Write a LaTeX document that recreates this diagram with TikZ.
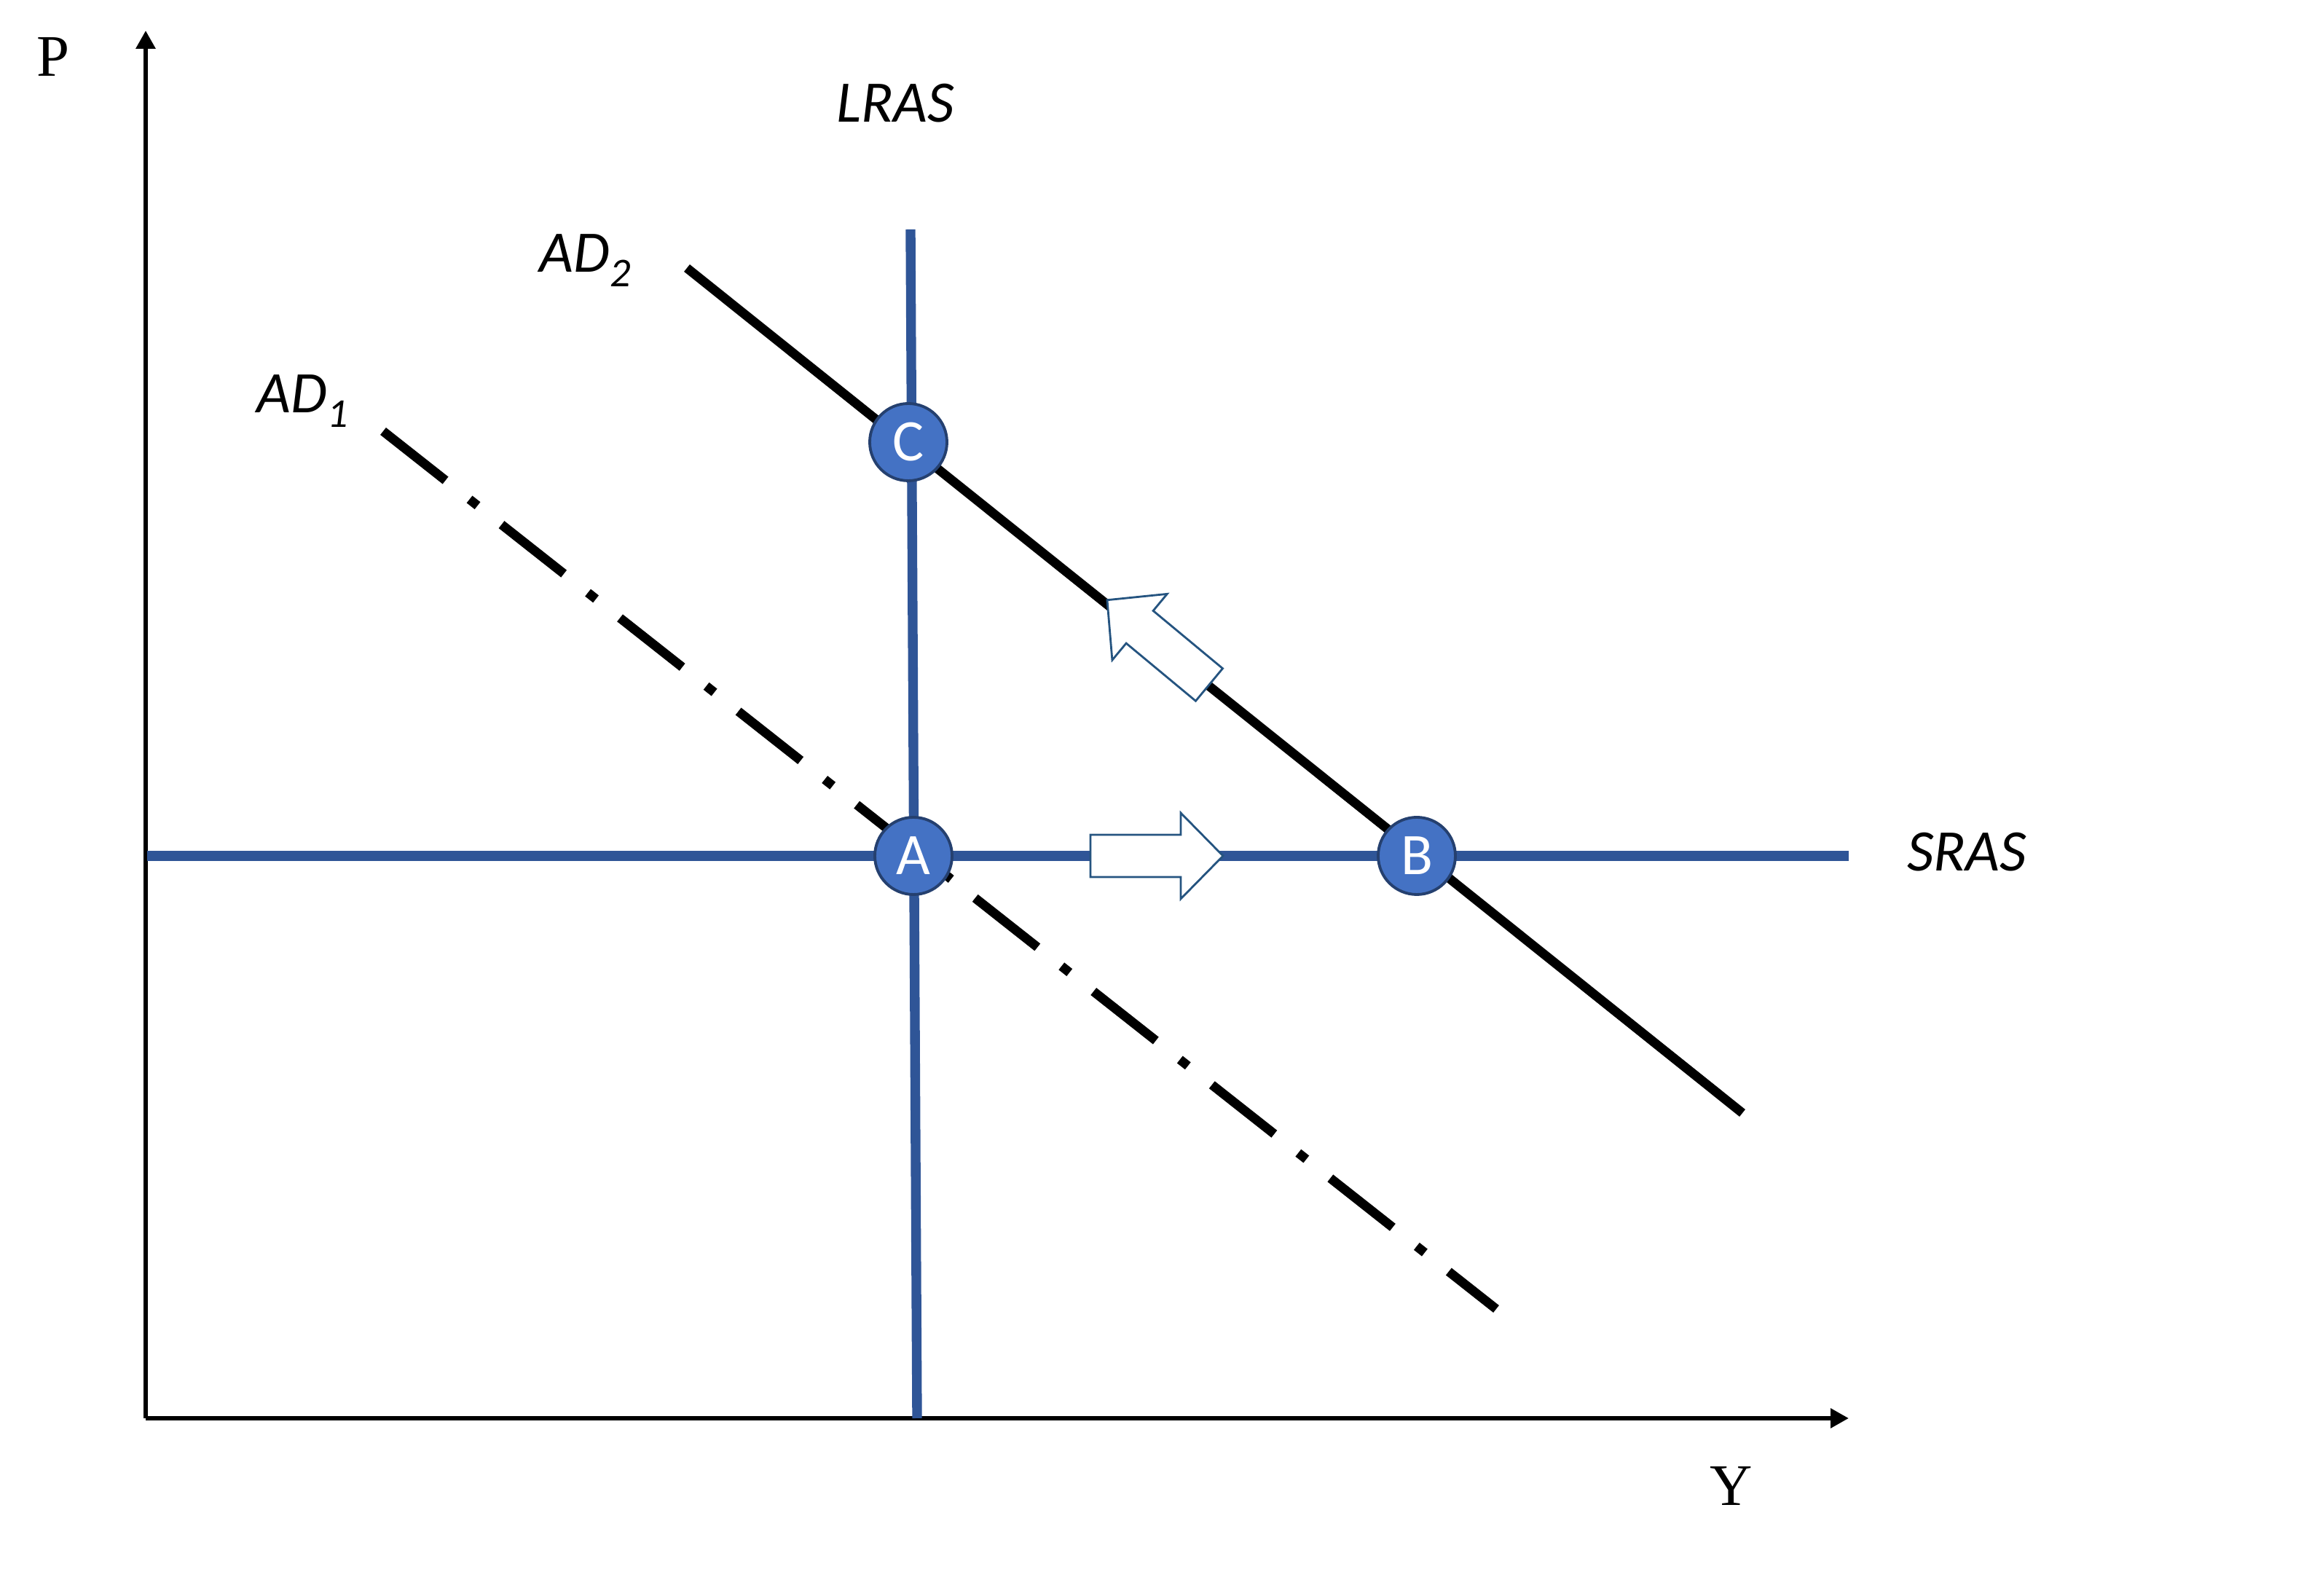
\documentclass[tikz,border=0pt]{standalone}
\usepackage{fontspec}
\setmainfont{Carlito}
\newfontfamily\axisfont{Liberation Serif}
\usetikzlibrary{arrows.meta}
\definecolor{pointblue}{HTML}{4472C4}
\definecolor{pointedge}{HTML}{25406F}
\definecolor{curveblue}{HTML}{2F5597}
\definecolor{shiftedge}{HTML}{255480}

\begin{document}
\begin{tikzpicture}[
  axis/.style={line width=1.7pt, -{Triangle[length=2.5mm, width=2.6mm]}},
  supply/.style={curveblue, line width=3.8pt},
  demand/.style={black, line width=3.6pt},
  point/.style={circle, draw=pointedge, line width=1.1pt, fill=pointblue, text=white, minimum size=10.6mm, inner sep=0pt, font=\fontsize{23}{23}\selectfont},
  curvelabel/.style={inner sep=0pt, font=\fontsize{23}{23}\selectfont\itshape},
  axislabel/.style={inner sep=0pt, font=\fontsize{23}{23}\selectfont\axisfont},
  shiftarrow/.pic={\draw[shiftedge, line width=0.8pt, fill=white] (0,-0.29) -- (1.24,-0.29) -- (1.24,-0.59) -- (1.82,0) -- (1.24,0.59) -- (1.24,0.29) -- (0,0.29) -- cycle;}
]
\useasboundingbox (-2.00,-2.44) rectangle (29.74,19.47);

\coordinate (origin) at (0,0);
\coordinate (ytop) at (0,19.05);
\coordinate (xend) at (23.38,0);
\coordinate (lrastop) at (10.50,16.32);
\coordinate (lrasbot) at (10.59,0);
\coordinate (srasleft) at (0.02,7.72);
\coordinate (srasright) at (23.38,7.72);
\coordinate (adtwotop) at (7.43,15.79);
\coordinate (adtwobot) at (21.92,4.19);
\coordinate (adonetop) at (3.26,13.55);
\coordinate (adonebot) at (18.54,1.50);

\draw[axis] (origin) -- (ytop);
\draw[axis] (origin) -- (xend);
\node[axislabel] (plabel) at (-1.27,18.69) {P};
\node[axislabel] (ylabel) at (21.77,-0.93) {Y};

\draw[supply] (lrastop) -- (lrasbot);
\draw[supply] (srasleft) -- (srasright);
\draw[demand] (adtwotop) -- (adtwobot);
\draw[demand, dash pattern=on 1.09cm off 0.42cm on 0.14cm off 0.42cm] (adonetop) -- (adonebot);

\node[curvelabel] (lraslabel) at (10.29,18.05) {LRAS};
\node[curvelabel] (sraslabel) at (25.00,7.77) {SRAS};
\node[curvelabel, anchor=base west] (adtwolabel) at (5.40,15.73) {AD\raisebox{-0.24em}{\fontsize{16}{16}\selectfont 2}};
\node[curvelabel, anchor=base west] (adonelabel) at (1.52,13.80) {AD\raisebox{-0.24em}{\fontsize{16}{16}\selectfont 1}};

\pic at (12.97,7.72) {shiftarrow};
\pic[rotate=140.3] at (14.60,10.07) {shiftarrow};

\node[point] (pointc) at (10.47,13.40) {C};
\node[point] (pointa) at (10.54,7.72) {A};
\node[point] (pointb) at (17.45,7.72) {B};
\end{tikzpicture}
\end{document}
